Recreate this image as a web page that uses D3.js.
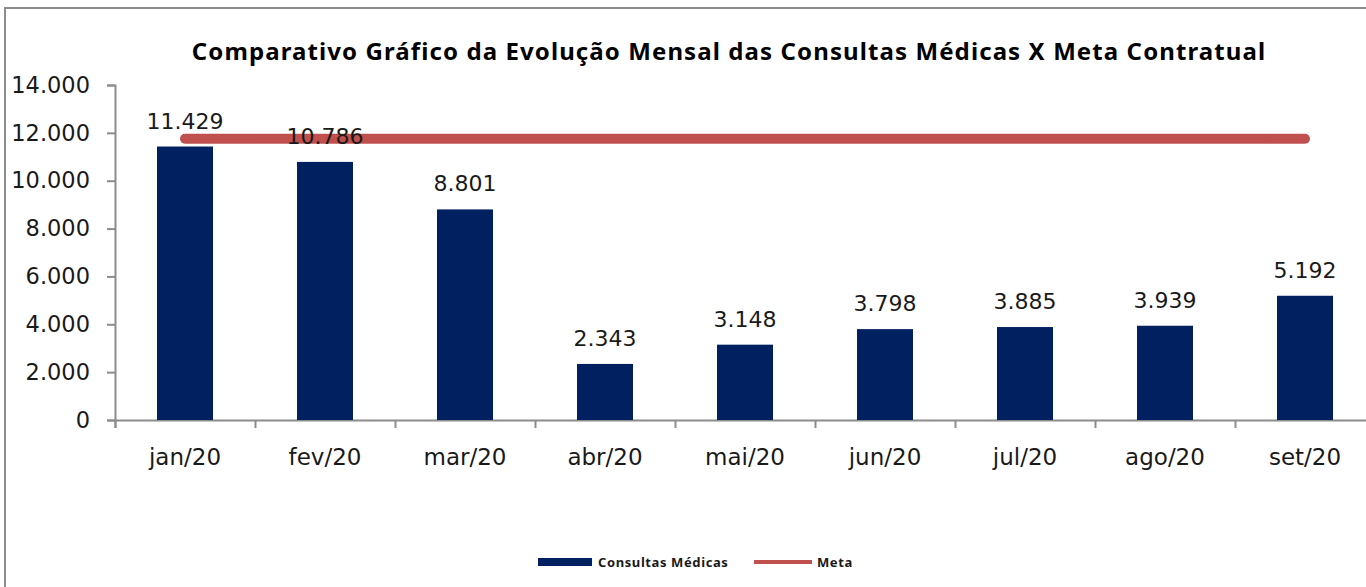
<!DOCTYPE html>
<html>
<head>
<meta charset="utf-8">
<script src="https://cdn.jsdelivr.net/npm/d3@7"></script>
<style>
  body { margin: 0; background: #fff; }
  svg { display: block; }
</style>
</head>
<body>
<div id="chart"></div>
<script>
// data
var months = ["jan/20", "fev/20", "mar/20", "abr/20", "mai/20", "jun/20", "jul/20", "ago/20", "set/20"];
var consultas = [11429, 10786, 8801, 2343, 3148, 3798, 3885, 3939, 5192];
var meta = [11750, 11750, 11750, 11750, 11750, 11750, 11750, 11750, 11750];
var yTicks = [0, 2000, 4000, 6000, 8000, 10000, 12000, 14000];

var width = 1366;
var height = 587;
var margin = {top: 85, left: 115, bottom: 167};

var fmt = function(v) { return d3.format(",")(v).replace(/,/g, "."); };

var svg = d3.select("#chart")
            .append("svg")
            .attr("width", width)
            .attr("height", height);

// frame of the chart (right and bottom edges fall outside the picture)
svg.append("rect")
   .attr("x", 5).attr("y", 8)
   .attr("width", 1400).attr("height", 600)
   .attr("fill", "none")
   .attr("stroke", "#8c8c8c")
   .attr("stroke-width", 2);

// scales
var x = d3.scaleBand()
          .domain(months)
          .range([margin.left, margin.left + 140 * months.length])
          .paddingInner(0.6)
          .paddingOuter(0.3);

var y = d3.scaleLinear()
          .domain([0, 14000])
          .range([height - margin.bottom, margin.top]);

// title
svg.append("text")
   .attr("x", 729)
   .attr("y", 60)
   .attr("text-anchor", "middle")
   .attr("font-family", "Noto Sans")
   .attr("font-weight", "bold")
   .attr("font-size", 24)
   .attr("letter-spacing", 1.1)
   .attr("fill", "#000")
   .text("Comparativo Gráfico da Evolução Mensal das Consultas Médicas X Meta Contratual");

// y axis
var yAxis = svg.append("g")
               .attr("transform", "translate(" + margin.left + ",0)")
               .call(d3.axisLeft(y).tickValues(yTicks).tickFormat(fmt).tickSize(8).tickPadding(17));

// x axis
var xAxis = svg.append("g")
               .attr("transform", "translate(0," + y(0) + ")")
               .call(d3.axisBottom(d3.scaleLinear().domain([0, months.length]).range([margin.left, margin.left + 140 * months.length]))
                       .ticks(months.length).tickSize(8).tickFormat(""));

[yAxis, xAxis].forEach(function(g) {
  g.select(".domain").attr("stroke", "#8c8c8c").attr("stroke-width", 2);
  g.selectAll(".tick line").attr("stroke", "#8c8c8c").attr("stroke-width", 2);
});
yAxis.selectAll(".tick text")
     .attr("font-family", "DejaVu Sans")
     .attr("font-size", 22.5)
     .attr("fill", "#1a1a1a");

// month labels
svg.selectAll("text.month")
   .data(months)
   .enter()
   .append("text")
   .attr("class", "month")
   .attr("x", function(d) { return x(d) + x.bandwidth() / 2; })
   .attr("y", y(0) + 45)
   .attr("text-anchor", "middle")
   .attr("font-family", "DejaVu Sans")
   .attr("font-size", 23)
   .attr("fill", "#1a1a1a")
   .text(function(d) { return d; });

// bars
svg.selectAll("rect.bar")
   .data(consultas)
   .enter()
   .append("rect")
   .attr("class", "bar")
   .attr("x", function(d, i) { return x(months[i]); })
   .attr("y", function(d) { return y(d); })
   .attr("width", x.bandwidth())
   .attr("height", function(d) { return y(0) - y(d); })
   .attr("fill", "#002060");

// meta line
var line = d3.line()
             .x(function(d, i) { return x(months[i]) + x.bandwidth() / 2; })
             .y(function(d) { return y(d); });

svg.append("path")
   .datum(meta)
   .attr("d", line)
   .attr("fill", "none")
   .attr("stroke", "#c0504d")
   .attr("stroke-width", 10)
   .attr("stroke-linecap", "round");

// value labels
svg.selectAll("text.value")
   .data(consultas)
   .enter()
   .append("text")
   .attr("class", "value")
   .attr("x", function(d, i) { return x(months[i]) + x.bandwidth() / 2; })
   .attr("y", function(d) { return y(d) - 18; })
   .attr("text-anchor", "middle")
   .attr("font-family", "DejaVu Sans")
   .attr("font-size", 22)
   .attr("fill", "#1a1a1a")
   .text(fmt);

// legend
var legend = svg.append("g").attr("transform", "translate(0,562)");
legend.append("rect")
      .attr("x", 538).attr("y", -4)
      .attr("width", 54).attr("height", 8)
      .attr("fill", "#002060");
legend.append("text")
      .attr("x", 598).attr("y", 5)
      .attr("font-family", "Noto Sans")
      .attr("font-weight", "bold")
      .attr("font-size", 13)
      .attr("letter-spacing", 0.6)
      .attr("fill", "#1a1a1a")
      .text("Consultas Médicas");
legend.append("line")
      .attr("x1", 754).attr("x2", 812)
      .attr("y1", 0).attr("y2", 0)
      .attr("stroke", "#c0504d")
      .attr("stroke-width", 4);
legend.append("text")
      .attr("x", 817).attr("y", 5)
      .attr("font-family", "Noto Sans")
      .attr("font-weight", "bold")
      .attr("font-size", 13)
      .attr("letter-spacing", 0.6)
      .attr("fill", "#1a1a1a")
      .text("Meta");
</script>
</body>
</html>
